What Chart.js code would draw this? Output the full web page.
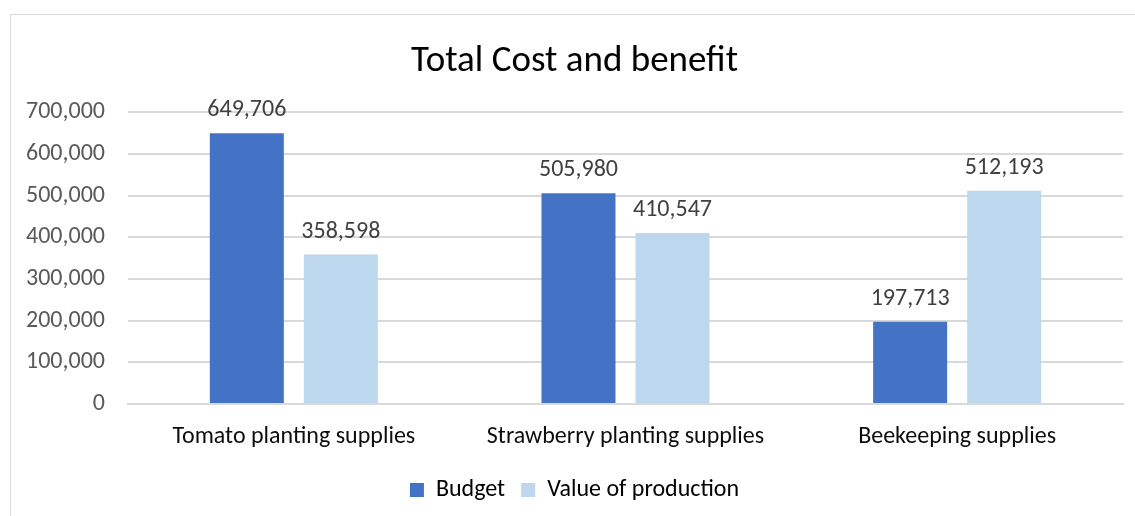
<!DOCTYPE html>
<html>
<head>
<meta charset="utf-8">
<script src="https://cdn.jsdelivr.net/npm/chart.js@4/dist/chart.umd.min.js"></script>
<style>
html,body{margin:0;padding:0;background:#fff;overflow:hidden;}
#frame{position:absolute;left:10px;top:14px;width:1140px;height:520px;border:1px solid #d9d9d9;box-sizing:border-box;}
#wrap{position:absolute;left:0;top:0;width:1135px;height:516px;}
</style>
</head>
<body>
<div id="frame"></div>
<div id="wrap"><canvas id="c" width="1135" height="516"></canvas></div>
<script>
const categories = ["Tomato planting supplies", "Strawberry planting supplies", "Beekeeping supplies"];
const budget = [649706, 505980, 197713];
const valueOfProduction = [358598, 410547, 512193];
const seriesNames = ["Budget", "Value of production"];
const yTicks = [0, 100000, 200000, 300000, 400000, 500000, 600000, 700000];

const FONT = "Calibri, Carlito, 'Open Sans', sans-serif";
const fmt = v => Number(v).toLocaleString('en-US');

const labelPlugin = {
  id: 'valueLabels',
  afterDatasetsDraw(chart) {
    const ctx = chart.ctx;
    ctx.save();
    ctx.font = "24px " + FONT;
    ctx.fillStyle = "#404040";
    ctx.textAlign = "center";
    ctx.textBaseline = "alphabetic";
    chart.data.datasets.forEach((ds, i) => {
      chart.getDatasetMeta(i).data.forEach((bar, j) => {
        ctx.fillText(fmt(ds.data[j]), bar.x, bar.y - 17);
      });
    });
    ctx.restore();
  }
};

new Chart(document.getElementById('c'), {
  type: 'bar',
  data: {
    labels: categories,
    datasets: [
      { label: seriesNames[0], data: budget, backgroundColor: '#4472c4' },
      { label: seriesNames[1], data: valueOfProduction, backgroundColor: '#bdd7ee' }
    ]
  },
  options: {
    responsive: false,
    animation: false,
    devicePixelRatio: 1,
    categoryPercentage: 0.567,
    barPercentage: 0.787,
    layout: { padding: { left: 26, right: 12, top: 40, bottom: 4 } },
    plugins: {
      title: {
        display: true,
        text: 'Total Cost and benefit',
        color: '#000',
        font: { family: FONT, size: 37, weight: 'normal' },
        padding: { top: 0, bottom: 28 }
      },
      legend: {
        position: 'bottom',
        labels: {
          color: '#000',
          font: { family: FONT, size: 24 },
          boxWidth: 14,
          boxHeight: 14,
          padding: 16
        }
      },
      tooltip: { enabled: false }
    },
    scales: {
      x: {
        grid: { display: false, drawTicks: false },
        border: { display: true, color: '#d9d9d9', width: 2 },
        ticks: { color: '#0d0d0d', font: { family: FONT, size: 24 }, padding: 19 },
        afterFit: axis => { axis.height = 58; }
      },
      y: {
        min: 0,
        max: 700000,
        afterBuildTicks: axis => { axis.ticks = yTicks.map(v => ({ value: v })); },
        afterFit: axis => { axis.width = 102; },
        grid: { color: '#d9d9d9', lineWidth: 2, drawTicks: false },
        border: { display: false },
        ticks: { color: '#595959', font: { family: FONT, size: 24 }, padding: 23, callback: v => fmt(v) }
      }
    }
  },
  plugins: [labelPlugin]
});
</script>
</body>
</html>
